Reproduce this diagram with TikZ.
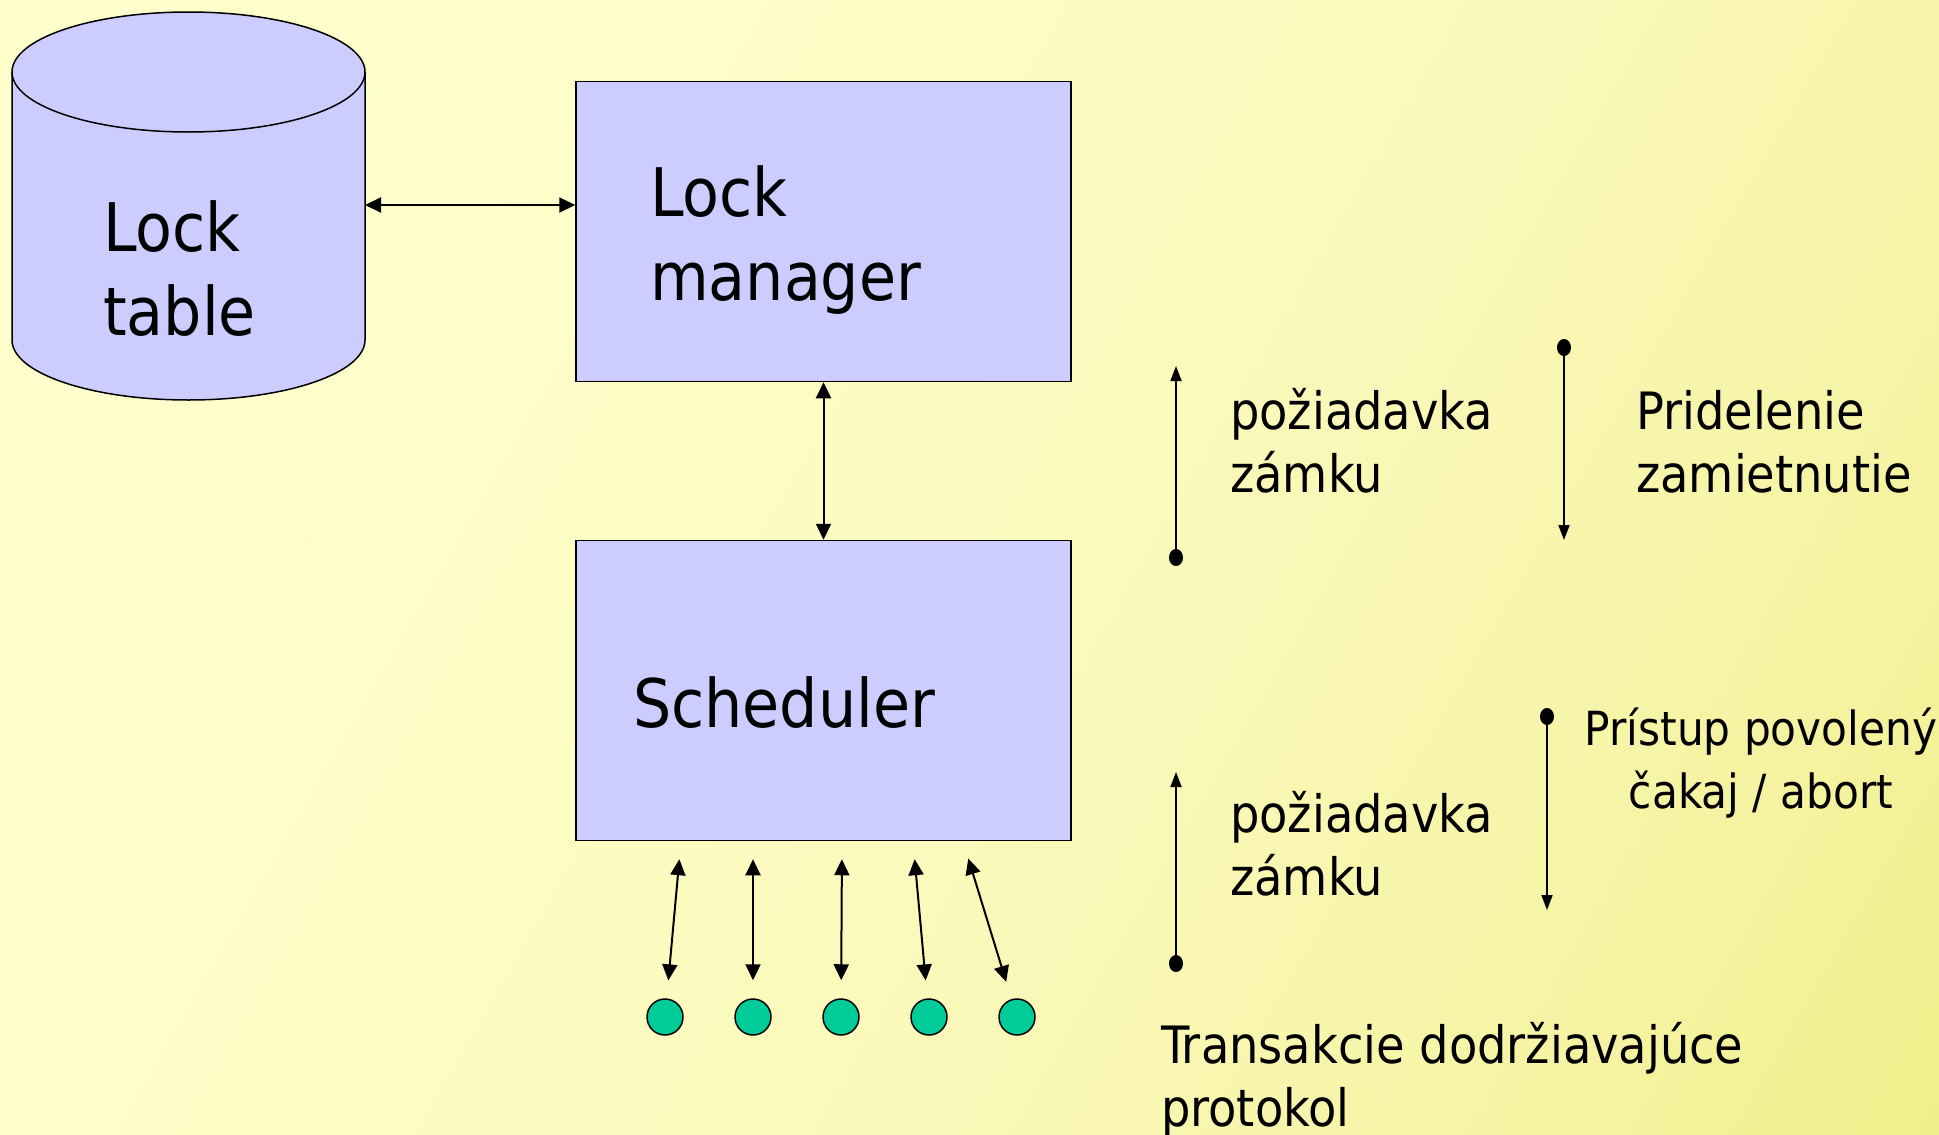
\documentclass[tikz,border=0pt]{standalone}
\usepackage{fontspec}
\setmainfont{DejaVu Sans Condensed}
\usetikzlibrary{arrows.meta}

\definecolor{boxfill}{HTML}{CCCCFF}
\definecolor{txfill}{HTML}{00CC99}
\definecolor{bglight}{HTML}{FFFFCC}
\definecolor{bgmid}{HTML}{FAF8B8}
\definecolor{bgtr}{HTML}{F5F3A0}
\definecolor{bgdark}{HTML}{E9E966}

% slide background, light upper left to darker lower right
\pgfdeclarehorizontalshading{slidebg}{100bp}{color(0bp)=(bglight); color(30bp)=(bglight); color(58bp)=(bgmid); color(75bp)=(bgtr); color(100bp)=(bgdark)}

\tikzset{
  box/.style={draw, line width=1.5pt, fill=boxfill, minimum width=495pt, minimum height=300pt, inner sep=0pt},
  big/.style={font=\fontsize{67}{84}\selectfont, align=left, inner sep=0pt, anchor=base west},
  small/.style={font=\fontsize{51.5}{63}\selectfont, align=left, inner sep=0pt, anchor=base west},
  link/.style={<->, line width=2pt},
  flow/.style={line width=1.7pt, {Ellipse[length=17pt,width=14pt]}-{Triangle[length=15pt,width=11pt]}},
  trans/.style={circle, draw, line width=1.5pt, fill=txfill, minimum size=36pt, inner sep=0pt},
}

\begin{document}
\begin{tikzpicture}[x=1pt,y=-1pt,>={Triangle[length=16pt,width=15pt]}]
  \shade[shading=slidebg,shading angle=-30] (0,0) rectangle (1939,1135);
  \useasboundingbox (0,0) rectangle (1939,1135);

  % lock table as a drum
  \draw[line width=1.5pt, fill=boxfill] (12,72) -- (12,340)
    arc[start angle=180, end angle=0, x radius=176.5, y radius=60] -- (365,72)
    arc[start angle=0, end angle=-180, x radius=176.5, y radius=60] -- cycle;
  \draw[line width=1.5pt] (12,72) arc[start angle=180, end angle=0, x radius=176.5, y radius=60];
  \coordinate (tab) at (365,205);
  \node[big] (tabtxt) at (103,335) {Lock\\table};

  % the two boxes
  \node[box] (lm) at (823.5,231.5) {};
  \node[big] (lmtxt) at (650,300) {Lock\\manager};
  \node[box] (sch) at (823.5,690.5) {};
  \node[big] (schtxt) at (633,727) {Scheduler};

  \draw[link] (tab) -- (tab -| lm.west);
  \draw[link] (lm) -- (sch);

  % transactions under the scheduler
  \foreach \i/\x/\dx in {1/665/-142.5,2/753/-70.5,3/841/18.5,4/929/89.5,5/1017/139.5}{
    \node[trans] (t\i) at (\x,1017) {};
    \coordinate (s\i) at ([xshift=\dx pt]sch.south);
    \draw[link, shorten <=18pt, shorten >=18pt] (s\i) -- (t\i);
  }

  % requests and answers
  \coordinate (rq1) at (1176,566); \coordinate (rq1tip) at (1176,366);
  \coordinate (gr1) at (1564,339); \coordinate (gr1tip) at (1564,540);
  \coordinate (rq2) at (1176,972); \coordinate (rq2tip) at (1176,772);
  \coordinate (gr2) at (1547,708); \coordinate (gr2tip) at (1547,910);
  \draw[flow] (rq1) -- (rq1tip);
  \draw[flow] (gr1) -- (gr1tip);
  \draw[flow] (rq2) -- (rq2tip);
  \draw[flow] (gr2) -- (gr2tip);

  \node[small] (rq1txt) at (1230,492) {požiadavka\\zámku};
  \node[small] (gr1txt) at (1636,492) {Pridelenie\\zamietnutie};
  \node[small] (rq2txt) at (1230,895) {požiadavka\\zámku};
  \node[small, align=center, anchor=base, font=\fontsize{47}{63}\selectfont] (gr2txt) at (1761,808) {Prístup povolený\\čakaj / abort};
  \node[small] (prottxt) at (1161,1126) {Transakcie dodržiavajúce\\protokol};
\end{tikzpicture}
\end{document}
